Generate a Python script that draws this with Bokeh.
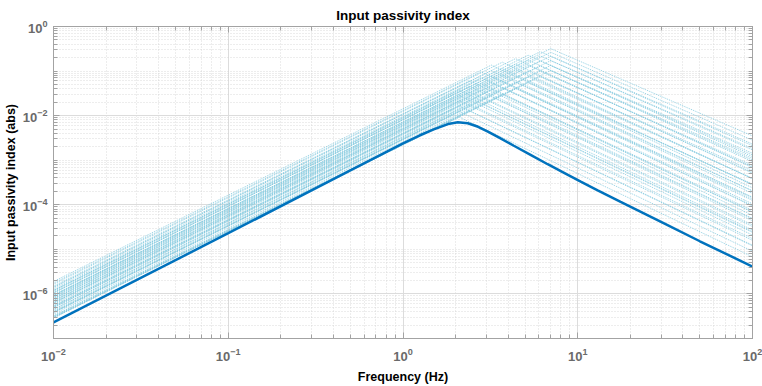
from bokeh.plotting import figure
from bokeh.models import LogAxis, FixedTicker, LogTicker
from bokeh.embed import file_html
from bokeh.resources import INLINE

# ---- solid curve (nominal) : frequency [Hz] vs input passivity index ----
freq_main = [0.01, 0.1, 0.5, 1.0, 1.25, 1.5, 1.81, 2.06, 2.35, 2.69, 3.06,
             3.55, 4.31, 5.37, 6.73, 8.51, 10.4, 13.0, 17.6, 31.6, 50.0, 100.0]
pi_main = [2.3e-7, 2.3e-5, 5.9e-4, 2.4e-3, 3.63e-3, 4.9e-3, 6.46e-3, 7.08e-3,
           6.76e-3, 5.62e-3, 4.37e-3, 3.2e-3, 2.11e-3, 1.32e-3, 8.13e-4,
           5.01e-4, 3.31e-4, 2.11e-4, 1.16e-4, 3.72e-5, 1.52e-5, 4.1e-6]

# ---- dotted family: per-curve readings ----
f_start = 0.01
f_end = 100.0
dot_lo = [3.0e-7, 4.0e-7, 5.3e-7, 7.0e-7, 9.2e-7, 1.2e-6,
          3.2e-7, 4.5e-7, 6.2e-7, 8.4e-7, 1.13e-6, 1.5e-6,
          3.5e-7, 4.9e-7, 6.9e-7, 9.6e-7, 1.3e-6, 1.75e-6,
          3.8e-7, 5.4e-7, 7.6e-7, 1.07e-6, 1.42e-6, 1.9e-6,
          3.2e-7, 4.5e-7, 6.3e-7, 8.8e-7, 1.2e-6, 1.65e-6,
          3.0e-7, 4.2e-7, 5.8e-7, 7.9e-7, 1.05e-6, 1.4e-6,
          2.9e-7, 3.9e-7, 5.3e-7, 7.1e-7, 9.3e-7, 1.2e-6,
          2.9e-7, 3.8e-7, 5.0e-7, 6.5e-7, 8.4e-7, 1.05e-6,
          3.0e-7, 3.9e-7, 5.0e-7, 6.3e-7, 7.7e-7, 9.3e-7]
dot_fpk = [2.1] * 6 + [2.4] * 6 + [2.8] * 6 + [3.2] * 6 + [3.7] * 6 + \
          [4.4] * 6 + [5.2] * 6 + [6.1] * 6 + [7.0] * 6
dot_vpk = [0.00926, 0.01235, 0.01636, 0.02161, 0.0284, 0.037,
           0.0129, 0.01814, 0.025, 0.03387, 0.04556, 0.0605,
           0.0192, 0.0269, 0.0379, 0.0527, 0.0713, 0.096,
           0.0272, 0.0387, 0.0545, 0.0767, 0.1018, 0.136,
           0.0307, 0.0431, 0.0604, 0.0843, 0.115, 0.158,
           0.0407, 0.0569, 0.0786, 0.107, 0.1423, 0.19,
           0.0549, 0.0738, 0.1003, 0.1344, 0.176, 0.227,
           0.0755, 0.099, 0.130, 0.169, 0.219, 0.273,
           0.103, 0.134, 0.1715, 0.216, 0.264, 0.319]
dot_hi = [6.8e-6, 9.1e-6, 1.2e-5, 1.59e-5, 2.09e-5, 2.72e-5,
          1.24e-5, 1.74e-5, 2.4e-5, 3.25e-5, 4.37e-5, 5.81e-5,
          2.51e-5, 3.52e-5, 4.95e-5, 6.89e-5, 9.32e-5, 1.25e-4,
          4.8e-5, 6.83e-5, 9.62e-5, 1.35e-4, 1.8e-4, 2.4e-4,
          7.5e-5, 1.05e-4, 1.48e-4, 2.06e-4, 2.81e-4, 3.86e-4,
          1.46e-4, 2.04e-4, 2.82e-4, 3.84e-4, 5.1e-4, 6.81e-4,
          2.91e-4, 3.91e-4, 5.32e-4, 7.12e-4, 9.33e-4, 1.2e-3,
          5.85e-4, 7.67e-4, 1.01e-3, 1.31e-3, 1.70e-3, 2.12e-3,
          1.10e-3, 1.43e-3, 1.83e-3, 2.3e-3, 2.81e-3, 3.5e-3]

y_major = [1e-6, 1e-4, 1e-2, 1e0]
y_minor = [m * 10.0 ** e for e in range(-7, 0) for m in range(1, 10)
           if not (m == 1 and (e % 2 == 0))]

FONT = "Liberation Sans"
AX_COL = "#a3a3a3"
LBL_COL = "#6a6a6a"

p = figure(width=762, height=386, x_axis_type="log", y_axis_type="log",
           x_range=(0.01, 100), y_range=(1e-7, 1),
           output_backend="svg", toolbar_location=None,
           min_border_left=53, min_border_right=10, min_border_top=26,
           min_border_bottom=47,
           title="Input passivity index")
p.title.align = "center"
p.title.text_font = FONT
p.title.text_font_size = "13.5px"
p.title.text_font_style = "bold"
p.title.text_color = "#000000"
p.title.standoff = 7
p.outline_line_color = AX_COL

yt = FixedTicker(ticks=y_major, minor_ticks=y_minor)
xt = LogTicker(num_minor_ticks=10)

for ax in [p.xaxis[0], p.yaxis[0]]:
    ax.axis_line_color = AX_COL
    ax.major_tick_line_color = AX_COL
    ax.minor_tick_line_color = AX_COL
    ax.major_tick_in = 6
    ax.major_tick_out = 0
    ax.minor_tick_in = 4
    ax.minor_tick_out = 0
    ax.major_label_text_font = FONT
    ax.major_label_text_font_style = "bold"
    ax.major_label_text_font_size = "13px"
    ax.major_label_text_color = LBL_COL
    ax.axis_label_text_font = FONT
    ax.axis_label_text_font_style = "bold"
    ax.axis_label_text_font_size = "12.5px"
    ax.axis_label_text_color = "#000000"

p.xaxis[0].ticker = xt
p.yaxis[0].ticker = yt
p.xaxis[0].axis_label = "Frequency (Hz)"
p.yaxis[0].axis_label = "Input passivity index (abs)"
p.xaxis[0].major_label_standoff = 9
p.xaxis[0].axis_label_standoff = 6
p.yaxis[0].major_label_standoff = 6
p.yaxis[0].axis_label_standoff = 2

# mirrored tick marks on top / right (box on)
top = LogAxis(ticker=xt, major_label_text_alpha=0, major_label_text_font_size="1px",
              major_label_standoff=0,
              axis_line_color=AX_COL, major_tick_line_color=AX_COL,
              minor_tick_line_color=AX_COL, major_tick_in=6, major_tick_out=0,
              minor_tick_in=4, minor_tick_out=0)
right = LogAxis(ticker=yt, major_label_text_alpha=0, major_label_text_font_size="1px",
                major_label_standoff=0,
                axis_line_color=AX_COL, major_tick_line_color=AX_COL,
                minor_tick_line_color=AX_COL, major_tick_in=6, major_tick_out=0,
                minor_tick_in=4, minor_tick_out=0)
p.add_layout(top, "above")
p.add_layout(right, "right")

p.xgrid.ticker = xt
p.ygrid.ticker = yt
for g in [p.xgrid, p.ygrid]:
    g.grid_line_color = "#dcdcdc"
    g.grid_line_width = 1
    g.minor_grid_line_color = "#d2d2d2"
    g.minor_grid_line_dash = "1 2"
    g.minor_grid_line_width = 0.8

xs = [[f_start, fp, f_end] for fp in dot_fpk]
ys = [[lo, vp, hi] for lo, vp, hi in zip(dot_lo, dot_vpk, dot_hi)]
p.multi_line(xs, ys, line_color="#86cbe0", line_alpha=0.9, line_width=1.0,
             line_dash="1 1")

p.line(freq_main, pi_main, line_color="#0072BD", line_width=2.5)

open("out.html", "w").write(file_html(p, INLINE))
